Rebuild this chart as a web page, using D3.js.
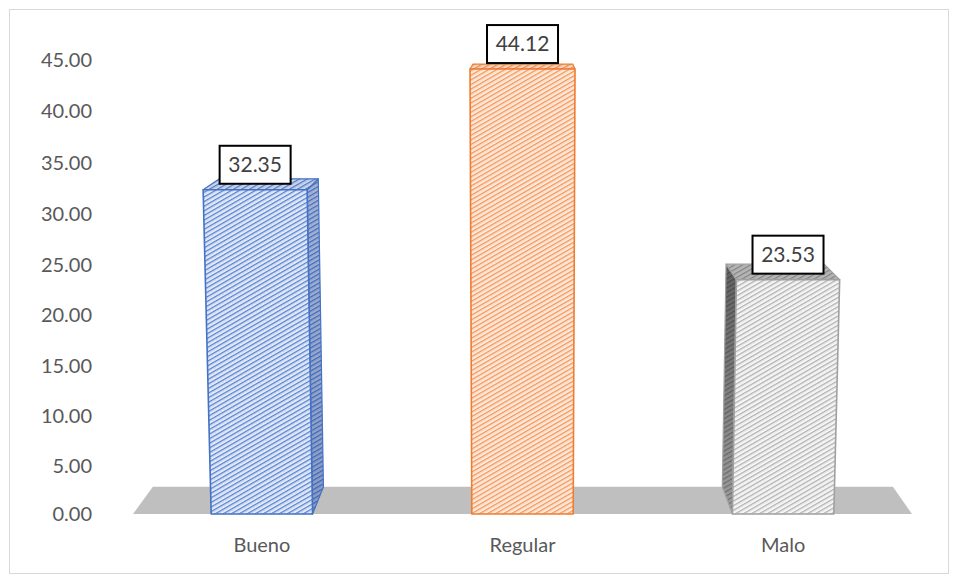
<!DOCTYPE html>
<html>
<head>
<meta charset="utf-8">
<script src="https://cdn.jsdelivr.net/npm/d3@7"></script>
<style>
  html, body { margin: 0; padding: 0; background: #ffffff; }
  svg { display: block; }
  text { font-family: Lato, "Open Sans", sans-serif; }
</style>
</head>
<body>
<svg id="chart" width="958" height="583"></svg>
<script>
// Chart data
const categories = ["Bueno", "Regular", "Malo"];
const values = [32.35, 44.12, 23.53];
const yTickValues = [0, 5, 10, 15, 20, 25, 30, 35, 40, 45];
const barColors = ["#4472c4", "#ed7d31", "#a0a0a0"];
const hatchColors = ["#5580d0", "#f39556", "#b0b0b0"];
const tintColors = ["#e4ebf8", "#fdeadd", "#f6f6f6"];
const shadeColors = ["#1f3f8a", "#a84a10", "#000000"];
const sideShadeOpacity = [[0.3, 0.45], [0.2, 0.35], [0.6, 0.35]];

const W = 958, H = 583;
const svg = d3.select("#chart");

// Scales (front plane of the 3-D plot)
const y = d3.scalePow().exponent(1.02).domain([0, 45]).range([514, 60]);
const x = d3.scaleBand().domain(categories).range([133, 912])
  .paddingInner(0.611).paddingOuter(0.30);

// Perspective helpers: vertical edges spread slightly with height,
// depth recedes toward a vanishing point above the plot.
const CX = 522, ALPHA = 8e-5, VPX = 530, VPY = -30, DEPTH = 0.05;
const base = y(0);
const widen = (px, py) => CX + (px - CX) * (1 + ALPHA * (base - py));
const back = ([px, py]) => [px + DEPTH * (VPX - px), py + DEPTH * (VPY - py)];
const line = d3.line();

// Outer frame
svg.append("rect")
  .attr("x", 9.5).attr("y", 9.5)
  .attr("width", W - 19).attr("height", H - 19)
  .attr("fill", "#ffffff").attr("stroke", "#d9d9d9").attr("stroke-width", 1);

// Hatch patterns and side shading
const defs = svg.append("defs");
categories.forEach((c, i) => {
  const p = defs.append("pattern")
    .attr("id", "hatch" + i)
    .attr("patternUnits", "userSpaceOnUse")
    .attr("width", 4).attr("height", 4)
    .attr("patternTransform", "rotate(-30)");
  p.append("rect").attr("width", 4).attr("height", 4).attr("fill", tintColors[i]);
  p.append("rect").attr("x", 0).attr("y", 0).attr("width", 4).attr("height", 1.3)
    .attr("fill", hatchColors[i]);
  p.append("circle").attr("cx", 2).attr("cy", 2.7).attr("r", 0.4)
    .attr("fill", hatchColors[i]).attr("opacity", 0.6);

  const s = defs.append("linearGradient").attr("id", "sideShade" + i)
    .attr("x1", 0).attr("y1", 0).attr("x2", 0).attr("y2", 1);
  s.append("stop").attr("offset", "0%").attr("stop-color", shadeColors[i])
    .attr("stop-opacity", sideShadeOpacity[i][0]);
  s.append("stop").attr("offset", "100%").attr("stop-color", shadeColors[i])
    .attr("stop-opacity", sideShadeOpacity[i][1]);
});

// Floor
const [fx0, fx1] = x.range();
const floorFront = [[fx0, base], [fx1, base]];
const floorPts = [floorFront[0], floorFront[1], back(floorFront[1]), back(floorFront[0])];
svg.append("path")
  .attr("d", line(floorPts) + "Z")
  .attr("fill", "#bfbfbf");

// Y axis
const yAxis = d3.axisLeft(y).tickValues(yTickValues).tickSize(0).tickPadding(0)
  .tickFormat(d3.format(".2f"));
const gy = svg.append("g").attr("transform", "translate(92,0)").call(yAxis);
gy.select(".domain").remove();
gy.selectAll("text")
  .attr("fill", "#595959")
  .style("font-size", "20px")
  .style("font-family", "Lato, 'Open Sans', sans-serif");

// Category labels
svg.append("g").selectAll("text")
  .data(categories)
  .join("text")
  .attr("x", d => x(d) + x.bandwidth() / 2)
  .attr("y", 552)
  .attr("text-anchor", "middle")
  .attr("fill", "#595959")
  .style("font-size", "20px")
  .text(d => d);

// Bars
const bars = svg.append("g");
categories.forEach((c, i) => {
  const v = values[i];
  const xl = x(c), xr = xl + x.bandwidth();
  const yt = y(v);
  const TL = [widen(xl, yt), yt], TR = [widen(xr, yt), yt];
  const BL = [xl, base], BR = [xr, base];
  const g = bars.append("g");

  // Side face that faces the viewer
  let side = null;
  if (VPX > TR[0]) side = [TR, BR, back(BR), back(TR)];
  else if (VPX < TL[0]) side = [TL, BL, back(BL), back(TL)];
  if (side) {
    g.append("path").attr("d", line(side) + "Z").attr("fill", `url(#hatch${i})`);
    g.append("path").attr("d", line(side) + "Z").attr("fill", `url(#sideShade${i})`)
      .attr("stroke", barColors[i]).attr("stroke-width", 1.2).attr("stroke-linejoin", "round");
  }

  // Top face
  const top = [TL, TR, back(TR), back(TL)];
  g.append("path").attr("d", line(top) + "Z").attr("fill", `url(#hatch${i})`);
  g.append("path").attr("d", line(top) + "Z").attr("fill", shadeColors[i])
    .attr("fill-opacity", i === 2 ? 0.25 : 0.12)
    .attr("stroke", barColors[i]).attr("stroke-width", 1.2).attr("stroke-linejoin", "round");

  // Front face
  const front = [TL, TR, BR, BL];
  g.append("path").attr("d", line(front) + "Z")
    .attr("fill", `url(#hatch${i})`)
    .attr("stroke", barColors[i]).attr("stroke-width", 1.6).attr("stroke-linejoin", "round");

  // Value label box
  const cx = (TL[0] + TR[0]) / 2;
  const bw = 71, bh = 38;
  const lb = g.append("g").attr("transform", `translate(${cx - bw / 2},${yt - 6 - bh})`);
  lb.append("rect").attr("width", bw).attr("height", bh)
    .attr("fill", "#ffffff").attr("stroke", "#000000").attr("stroke-width", 2);
  lb.append("text").attr("x", bw / 2).attr("y", bh / 2).attr("dy", "0.35em")
    .attr("text-anchor", "middle").attr("fill", "#404040")
    .style("font-size", "21px")
    .text(d3.format(".2f")(v));
});
</script>
</body>
</html>
